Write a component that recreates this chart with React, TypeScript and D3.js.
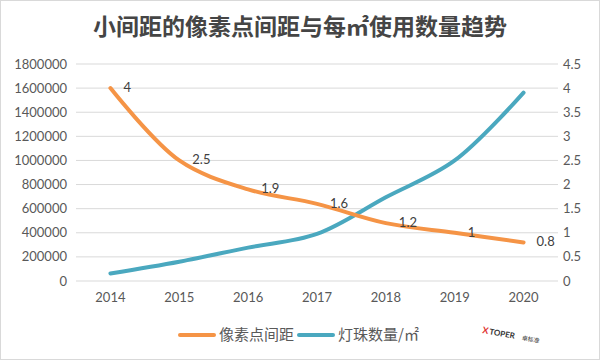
import React from "react";
import * as d3 from "d3";

const years = ["2014", "2015", "2016", "2017", "2018", "2019", "2020"];
const pitch = [4, 2.5, 1.9, 1.6, 1.2, 1, 0.8];
const ledCount = [62500, 160000, 277008, 390625, 694444, 1000000, 1562500];
const leftTicks = [0, 200000, 400000, 600000, 800000, 1000000, 1200000, 1400000, 1600000, 1800000];
const rightTicks = [0, 0.5, 1, 1.5, 2, 2.5, 3, 3.5, 4, 4.5];
const title = "小间距的像素点间距与每㎡使用数量趋势";
const seriesNames = ["像素点间距", "灯珠数量/㎡"];

const W = 600, H = 360;
const plot = { left: 76, right: 558, top: 64, bottom: 281 };
const ORANGE = "#F59446";
const BLUE = "#4AA8BF";
const FONT = "Lato, 'Open Sans', sans-serif";

export default function App() {
  const x = d3.scaleBand().domain(years).range([plot.left, plot.right]);
  const yL = d3.scaleLinear().domain([0, 1800000]).range([plot.bottom, plot.top]);
  const yR = d3.scaleLinear().domain([0, 4.5]).range([plot.bottom, plot.top]);
  const cx = (d: string) => (x(d) as number) + x.bandwidth() / 2;

  const curve = d3.curveCatmullRom.alpha(0.5);
  const orangePath = d3.line<number>().x((_, i) => cx(years[i])).y((d) => yR(d)).curve(curve)(pitch) || "";
  const bluePath = d3.line<number>().x((_, i) => cx(years[i])).y((d) => yL(d)).curve(curve)(ledCount) || "";

  return (
    <svg width={W} height={H} style={{ position: "absolute", left: 0, top: 0, background: "#fff" }}>
      <rect x={0.5} y={0.5} width={W - 1} height={H - 1} fill="#fff" stroke="#d9d9d9" />
      <text x={300} y={35} textAnchor="middle" fontSize={23} fontWeight={700}
        fontFamily="'Noto Sans CJK SC', sans-serif" fill="#454545">{title}</text>

      {leftTicks.map((t) => (
        <line key={t} x1={plot.left} x2={plot.right} y1={yL(t)} y2={yL(t)} stroke="#d9d9d9" strokeWidth={1} />
      ))}
      {leftTicks.map((t) => (
        <text key={"l" + t} x={67} y={yL(t)} dy="0.35em" textAnchor="end" fontSize={13}
          fontFamily={FONT} fill="#595959">{t}</text>
      ))}
      {rightTicks.map((t) => (
        <text key={"r" + t} x={563} y={yR(t)} dy="0.35em" textAnchor="start" fontSize={13}
          fontFamily={FONT} fill="#595959">{t}</text>
      ))}
      {years.map((yv) => (
        <text key={yv} x={cx(yv)} y={302} textAnchor="middle" fontSize={13}
          fontFamily={FONT} fill="#595959">{yv}</text>
      ))}

      <path d={bluePath} fill="none" stroke={BLUE} strokeWidth={4} strokeLinecap="round" />
      <path d={orangePath} fill="none" stroke={ORANGE} strokeWidth={4} strokeLinecap="round" />

      {pitch.map((v, i) => (
        <text key={"d" + i} x={cx(years[i]) + 13} y={yR(v)} dy="0.3em" fontSize={13}
          fontFamily={FONT} fill="#404040">{v}</text>
      ))}

      <line x1={180} x2={214} y1={335} y2={335} stroke={ORANGE} strokeWidth={4} strokeLinecap="round" />
      <text x={219} y={335} dy="0.35em" fontSize={15} fontFamily="'Noto Sans CJK SC', sans-serif" fill="#595959">{seriesNames[0]}</text>
      <line x1={299} x2={333} y1={335} y2={335} stroke={BLUE} strokeWidth={4} strokeLinecap="round" />
      <text x={338} y={335} dy="0.35em" fontSize={15} fontFamily="'Noto Sans CJK SC', sans-serif" fill="#595959">{seriesNames[1]}</text>

      <g transform="translate(482,333) rotate(10)">
        <text x={0} y={0} fontSize={9} fontWeight={700} fontFamily={FONT} fill="#e03030">X</text>
        <text x={7} y={0} fontSize={8} fontWeight={700} fontFamily={FONT} fill="#333">TOPER</text>
        <text x={40} y={0} fontSize={6} fontFamily="'Noto Sans CJK SC', sans-serif" fill="#333">卓标准</text>
      </g>
    </svg>
  );
}
